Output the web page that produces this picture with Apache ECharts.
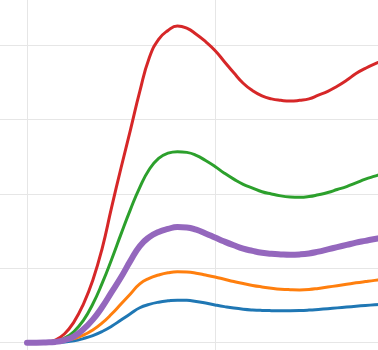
<!DOCTYPE html>
<html>
<head>
<meta charset="utf-8">
<script src="https://cdn.jsdelivr.net/npm/echarts@6/dist/echarts.min.js"></script>
<style>
html,body{margin:0;padding:0;background:#fff;overflow:hidden;width:378px;height:350px;}
#chart{position:absolute;left:-161px;top:-29.3px;width:564px;height:446.4px;}
</style>
</head>
<body>
<div id="chart"></div>
<script>
// sample times and values
var times = [0,0.5,1,1.5,2,2.5,3,3.5,4,4.5,5,5.5,6,6.5,7,7.5,8,8.5,9,9.5,10,10.5,11,11.5,12,12.5,13,13.5,14,14.5,15,15.5,16,16.5,17,17.5,18,18.5,19,19.5,20];
var blueVals = [0,0,0.001,0.004,0.01,0.025,0.055,0.095,0.15,0.22,0.305,0.39,0.47,0.515,0.545,0.563,0.572,0.57,0.555,0.533,0.508,0.485,0.465,0.45,0.44,0.434,0.431,0.43,0.43,0.432,0.438,0.447,0.457,0.468,0.479,0.49,0.50,0.51,0.52,0.53,0.54];
var orangeVals = [0,0,0.002,0.006,0.025,0.055,0.10,0.17,0.265,0.385,0.52,0.655,0.79,0.865,0.91,0.94,0.953,0.95,0.935,0.91,0.883,0.853,0.823,0.795,0.77,0.75,0.733,0.72,0.713,0.71,0.715,0.73,0.748,0.767,0.786,0.805,0.822,0.838,0.852,0.866,0.878];
var greenVals = [0,0,0.004,0.02,0.06,0.15,0.30,0.52,0.80,1.12,1.46,1.79,2.09,2.33,2.48,2.55,2.57,2.56,2.52,2.45,2.37,2.28,2.20,2.13,2.08,2.03,2.0,1.975,1.96,1.955,1.965,1.99,2.02,2.06,2.10,2.15,2.20,2.24,2.28,2.31,2.34];
var redVals = [0,0,0.005,0.035,0.12,0.28,0.52,0.84,1.27,1.82,2.35,2.86,3.38,3.83,4.08,4.20,4.26,4.23,4.15,4.05,3.93,3.78,3.63,3.49,3.39,3.32,3.28,3.26,3.25,3.26,3.28,3.33,3.38,3.45,3.53,3.62,3.69,3.75,3.80,3.85,3.89];
var purpleVals = [0,0,0.003,0.01,0.035,0.085,0.18,0.31,0.48,0.68,0.88,1.10,1.30,1.42,1.49,1.53,1.555,1.55,1.52,1.47,1.415,1.36,1.31,1.265,1.235,1.21,1.195,1.187,1.183,1.187,1.20,1.225,1.255,1.285,1.315,1.345,1.37,1.395,1.415,1.435,1.455];

function pairs(vals) { return times.map(function (t, i) { return [t, vals[i]]; }); }

var chart = echarts.init(document.getElementById('chart'));
function s(name, vals, color, width) {
  return {name: name, type: 'line', data: pairs(vals), smooth: 0.5, showSymbol: false, symbol: 'none',
    lineStyle: {color: color, width: width, cap: 'round', join: 'round'}, itemStyle: {color: color}};
}
chart.setOption({
  animation: false,
  backgroundColor: '#fff',
  grid: {left: 0, right: 0, top: 0, bottom: 0, containLabel: false},
  xAxis: {type: 'value', min: -10, max: 20, interval: 10,
    axisLine: {show: false}, axisTick: {show: false}, axisLabel: {show: false},
    splitLine: {show: true, lineStyle: {color: '#e6e6e6', width: 1}}},
  yAxis: {type: 'value', min: -1, max: 5, interval: 1,
    axisLine: {show: false}, axisTick: {show: false}, axisLabel: {show: false},
    splitLine: {show: true, lineStyle: {color: '#e6e6e6', width: 1}}},
  series: [
    s('blue', blueVals, '#1f77b4', 3),
    s('orange', orangeVals, '#ff7f0e', 3),
    s('green', greenVals, '#2ca02c', 3),
    s('red', redVals, '#d62728', 3),
    s('purple', purpleVals, '#9467bd', 6)
  ]
});
</script>
</body>
</html>
